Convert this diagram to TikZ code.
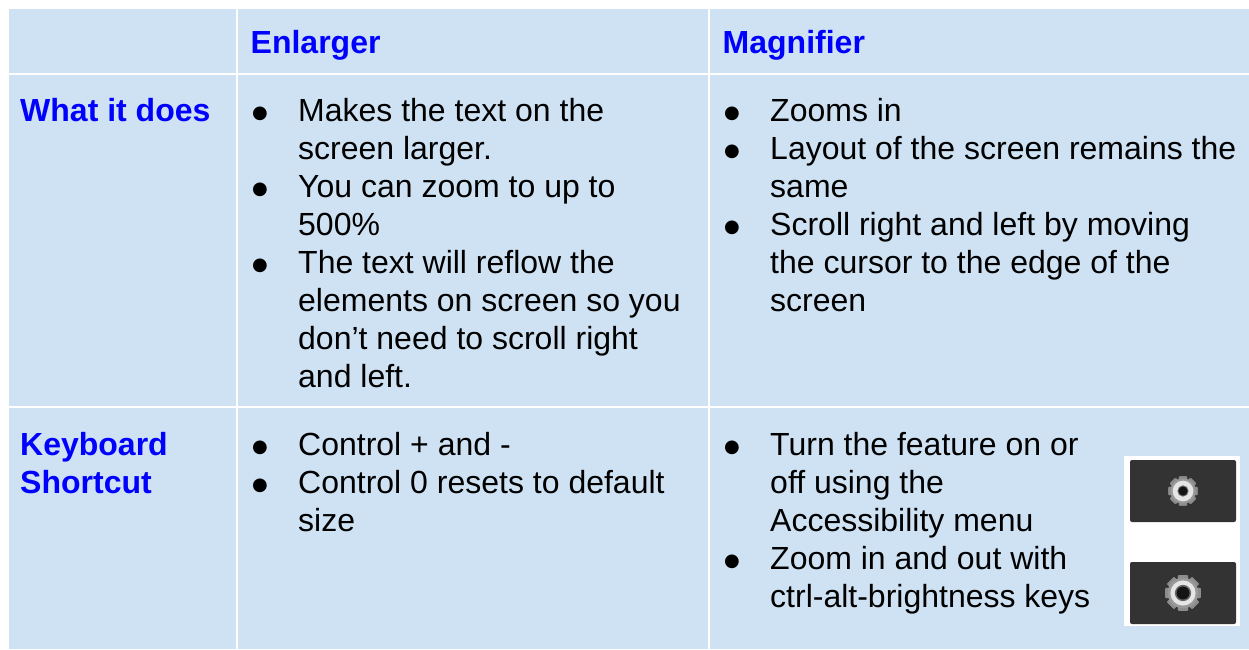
\documentclass[tikz,border=0pt]{standalone}
\usepackage{fontspec}
\setmainfont{Liberation Sans}
\newfontfamily\bulfont{DejaVu Sans}
\definecolor{cellblue}{HTML}{CFE2F3}
\definecolor{headblue}{HTML}{0000FF}
\definecolor{btn}{HTML}{333333}
\newcommand{\gearicon}[4]{%
  \fill[black!80] (#1,#2) circle[radius=#3*1.1];
  \foreach \a in {0,45,...,315}{\fill[white!55!black,rotate around={\a:(#1,#2)},rounded corners=1pt] (#1-#3*0.3,#2-#3*1.05) rectangle (#1+#3*0.3,#2+#3*1.05);}
  \fill[white!60!black] (#1,#2) circle[radius=#3*0.9];
  \fill[white!90!black] (#1,#2) circle[radius=#3*0.74];
  \fill[white!40!black] (#1,#2) circle[radius=#4*1.25];
  \fill[black!92] (#1,#2) circle[radius=#4];
}
\tikzset{
  cell/.style={fill=cellblue,draw=none},
  head/.style={anchor=base west,inner sep=0pt,text=headblue,font=\fontsize{32}{38}\selectfont\bfseries},
  line/.style={anchor=base west,inner sep=0pt,text=black,font=\fontsize{32}{38}\selectfont},
  bul/.style={anchor=base west,inner sep=0pt,text=black,font=\bulfont\fontsize{18}{38}\selectfont},
}
\begin{document}
\begin{tikzpicture}[x=1pt,y=-1pt]
\useasboundingbox (0,0) rectangle (1249,649);
\fill[white] (0,0) rectangle (1249,649);
\fill[cell] (8.5,8.5) rectangle (235.5,72.5);
\fill[cell] (238,8.5) rectangle (707.5,72.5);
\fill[cell] (710,8.5) rectangle (1249,72.5);
\fill[cell] (8.5,75) rectangle (235.5,405.5);
\fill[cell] (238,75) rectangle (707.5,405.5);
\fill[cell] (710,75) rectangle (1249,405.5);
\fill[cell] (8.5,408) rectangle (235.5,649);
\fill[cell] (238,408) rectangle (707.5,649);
\fill[cell] (710,408) rectangle (1249,649);
% header
\node[head] (h1) at (250.5,53) {Enlarger};
\node[head] (h2) at (722.5,53) {Magnifier};
\node[head] (r1) at (20,121) {What it does};
\node[head] (r2a) at (20,455) {Keyboard};
\node[head] (r2b) at (20,493) {Shortcut};
% enlarger
\node[bul] (b1) at (252,118) {●};
\node[line] (t1) at (298,121) {Makes the text on the};
\node[line] (t2) at (298,159) {screen larger.};
\node[bul] (b2) at (252,194) {●};
\node[line] (t3) at (298,197) {You can zoom to up to};
\node[line] (t4) at (298,235) {500\%};
\node[bul] (b3) at (252,270) {●};
\node[line] (t5) at (298,273) {The text will reflow the};
\node[line] (t6) at (298,311) {elements on screen so you};
\node[line] (t7) at (298,349) {don’t need to scroll right};
\node[line] (t8) at (298,387) {and left.};
% magnifier
\node[bul] (b4) at (724,118) {●};
\node[line] (m1) at (770,121) {Zooms in};
\node[bul] (b5) at (724,156) {●};
\node[line] (m2) at (770,159) {Layout of the screen remains the};
\node[line] (m3) at (770,197) {same};
\node[bul] (b6) at (724,232) {●};
\node[line] (m4) at (770,235) {Scroll right and left by moving};
\node[line] (m5) at (770,273) {the cursor to the edge of the};
\node[line] (m6) at (770,311) {screen};
% shortcut
\node[bul] (b7) at (252,452) {●};
\node[line] (s1) at (298,455) {Control + and -};
\node[bul] (b8) at (252,490) {●};
\node[line] (s2) at (298,493) {Control 0 resets to default};
\node[line] (s3) at (298,531) {size};
\node[bul] (b9) at (724,452) {●};
\node[line] (k1) at (770,455) {Turn the feature on or};
\node[line] (k2) at (770,493) {off using the};
\node[line] (k3) at (770,531) {Accessibility menu};
\node[bul] (b10) at (724,566) {●};
\node[line] (k4) at (770,569) {Zoom in and out with};
\node[line] (k5) at (770,607) {ctrl-alt-brightness keys};
% icons
\fill[white] (1124,456) rectangle (1240,625.5);
\fill[btn,rounded corners=2pt] (1130,460) rectangle (1236,522);
\fill[btn,rounded corners=2pt] (1130,562) rectangle (1236,624);
\gearicon{1183}{491}{14}{4.5}
\gearicon{1183}{593}{17}{6.5}
\end{tikzpicture}
\end{document}
